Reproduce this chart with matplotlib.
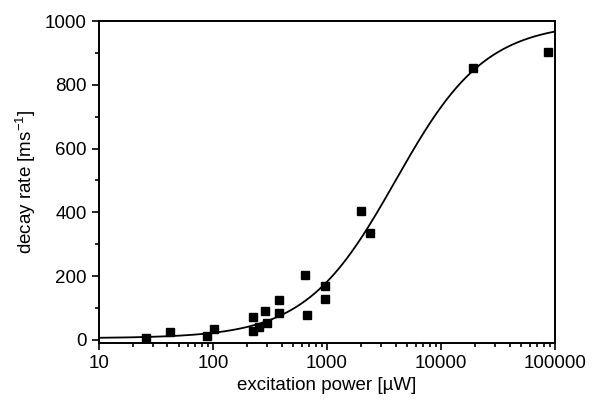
import numpy as np
import matplotlib.pyplot as plt
from matplotlib.ticker import FixedLocator, LogLocator, NullFormatter

plt.rcParams['font.family'] = ['Liberation Sans', 'DejaVu Sans']

# measured points: excitation power (uW) and decay rate (ms^-1)
power = [26, 42, 88, 102, 224, 226, 253, 286, 298, 379, 379, 641, 668, 960, 960,
         1990, 2380, 19100, 86900]
rate = [6, 25, 12, 34, 72, 28, 41, 91, 53, 125, 85, 204, 78, 169, 128,
        404, 335, 853, 903]

# saturation fit parameters
fit_y0 = 5
fit_amp = 990
fit_psat = 4000
fit_n = 1.1

p_fit = np.logspace(1, 5, 400)
r_fit = fit_y0 + fit_amp * p_fit**fit_n / (p_fit**fit_n + fit_psat**fit_n)

fig = plt.figure(figsize=(5.95, 4.0), dpi=100)
ax = fig.add_axes([0.166, 0.1425, 0.767, 0.805])

ax.plot(p_fit, r_fit, color='black', lw=1.3)
ax.plot(power, rate, 's', color='black', markersize=5.5)

ax.set_xscale('log')
ax.set_xlim(10, 100000)
ax.set_ylim(-10, 1000)
ax.set_xticks([10, 100, 1000, 10000, 100000])
ax.set_xticklabels(['10', '100', '1000', '10000', '100000'])
ax.xaxis.set_minor_locator(LogLocator(base=10, subs=np.arange(2, 10)))
ax.xaxis.set_minor_formatter(NullFormatter())
ax.set_yticks([0, 200, 400, 600, 800, 1000])
ax.yaxis.set_minor_locator(FixedLocator([100, 300, 500, 700, 900]))

ax.tick_params(which='both', direction='out', top=False, right=False,
               labelsize=13.5, width=1.2)
ax.tick_params(which='major', length=5)
ax.tick_params(which='minor', length=3)
for s in ax.spines.values():
    s.set_linewidth(1.4)

ax.set_xlabel('excitation power [µW]', fontsize=13.5, labelpad=4)
ax.set_ylabel('decay rate [ms$^{\\mathregular{-1}}$]', fontsize=13.5, labelpad=5)

fig.savefig('out.png', dpi=100)
